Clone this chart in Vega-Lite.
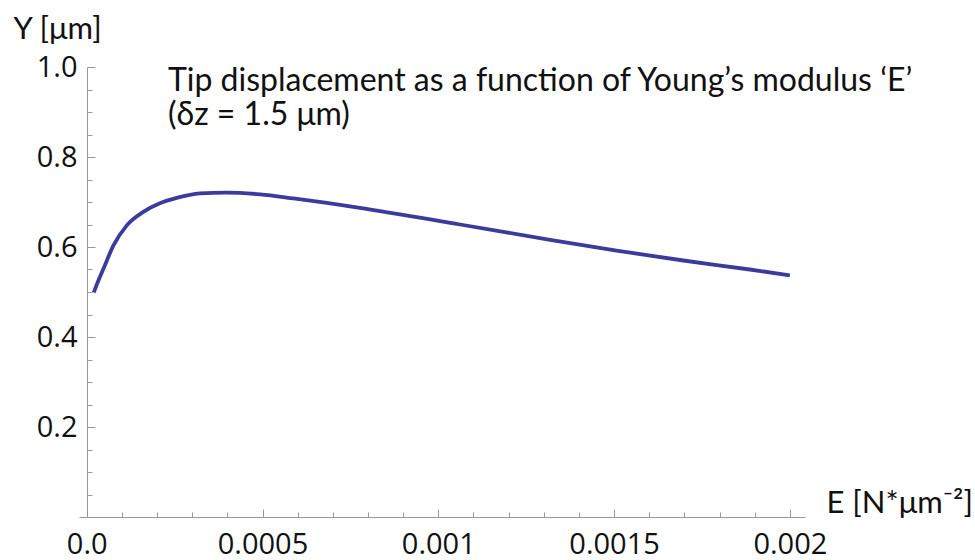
{
  "$schema": "https://vega.github.io/schema/vega-lite/v6.json",
  "width": 726,
  "height": 450,
  "autosize": "none",
  "padding": {"left": 79, "top": 67, "right": 170, "bottom": 43},
  "background": "white",
  "config": {"view": {"stroke": null}},
  "title": {
    "text": ["Tip displacement as a function of Young’s modulus ‘E’", "(δz = 1.5 μm)"],
    "anchor": "start",
    "frame": "group",
    "orient": "top",
    "offset": -121,
    "baseline": "alphabetic",
    "dx": 89,
    "dy": 23,
    "font": "Lato",
    "fontSize": 32,
    "fontWeight": "normal",
    "color": "#111111",
    "lineHeight": 34
  },
  "data": {
    "values": [
      {"E": 0.00002, "Y": 0.499},
      {"E": 0.000033, "Y": 0.525},
      {"E": 0.0000472, "Y": 0.551},
      {"E": 0.0000757, "Y": 0.603},
      {"E": 0.000114, "Y": 0.648},
      {"E": 0.000161, "Y": 0.678},
      {"E": 0.000208, "Y": 0.697},
      {"E": 0.000256, "Y": 0.709},
      {"E": 0.000322, "Y": 0.719},
      {"E": 0.000398, "Y": 0.721},
      {"E": 0.000493, "Y": 0.717},
      {"E": 0.000588, "Y": 0.708},
      {"E": 0.000683, "Y": 0.698},
      {"E": 0.000777, "Y": 0.687},
      {"E": 0.001062, "Y": 0.650},
      {"E": 0.001318, "Y": 0.616},
      {"E": 0.001507, "Y": 0.592},
      {"E": 0.001697, "Y": 0.570},
      {"E": 0.001886, "Y": 0.550},
      {"E": 0.002, "Y": 0.537}
    ]
  },
  "layer": [
    {
      "mark": {"type": "line", "color": "#3b3b9e", "strokeWidth": 3.8, "interpolate": "monotone"},
      "encoding": {
        "x": {
          "field": "E", "type": "quantitative",
          "scale": {"domain": [-0.000022, 0.002043], "nice": false, "zero": false},
          "axis": {
            "orient": "bottom",
            "values": [0, 0.0005, 0.001, 0.0015, 0.002],
            "labelExpr": "datum.value == 0 ? '0.0' : format(datum.value, '~g')",
            "grid": false,
            "tickSize": -8,
            "tickColor": "#999999",
            "domainColor": "#999999",
            "labelFont": "Open Sans",
            "labelFontSize": 29,
            "labelColor": "#111111",
            "labelPadding": 21,
            "labelFlush": false,
            "labelOverlap": false,
            "title": "E [N*μm⁻²]",
            "titleFont": "Lato",
            "titleFontSize": 31,
            "titleFontWeight": "normal",
            "titleColor": "#111111",
            "titleAngle": 0,
            "titleAlign": "left",
            "titleBaseline": "alphabetic",
            "titleX": 747,
            "titleY": -5
          }
        },
        "y": {
          "field": "Y", "type": "quantitative",
          "scale": {"domain": [0, 1], "nice": false},
          "axis": {
            "orient": "left",
            "offset": -8,
            "values": [0.2, 0.4, 0.6, 0.8, 1.0],
            "format": ".1f",
            "grid": false,
            "tickSize": -8,
            "tickColor": "#999999",
            "domainColor": "#999999",
            "labelFont": "Open Sans",
            "labelFontSize": 29,
            "labelColor": "#111111",
            "labelPadding": 18,
            "labelOverlap": false,
            "title": "Y [μm]",
            "titleFont": "Lato",
            "titleFontSize": 31,
            "titleFontWeight": "normal",
            "titleColor": "#111111",
            "titleAngle": 0,
            "titleAlign": "left",
            "titleBaseline": "alphabetic",
            "titleX": -74,
            "titleY": -29
          }
        }
      }
    },
    {
      "mark": {"type": "line", "strokeOpacity": 0},
      "encoding": {
        "x": {
          "field": "E", "type": "quantitative",
          "axis": {
            "orient": "bottom",
            "values": [0.0001, 0.0002, 0.0003, 0.0004, 0.0006, 0.0007, 0.0008, 0.0009, 0.0011, 0.0012, 0.0013, 0.0014, 0.0016, 0.0017, 0.0018, 0.0019],
            "labels": false,
            "domain": false,
            "grid": false,
            "tickSize": -5,
            "tickColor": "#999999",
            "title": null
          }
        },
        "y": {
          "field": "Y", "type": "quantitative",
          "axis": {
            "orient": "left",
            "offset": -8,
            "values": [0.05, 0.1, 0.15, 0.25, 0.3, 0.35, 0.45, 0.5, 0.55, 0.65, 0.7, 0.75, 0.85, 0.9, 0.95],
            "labels": false,
            "domain": false,
            "grid": false,
            "tickSize": -5,
            "tickColor": "#999999",
            "title": null
          }
        }
      }
    }
  ],
  "resolve": {"axis": {"x": "independent", "y": "independent"}}
}
